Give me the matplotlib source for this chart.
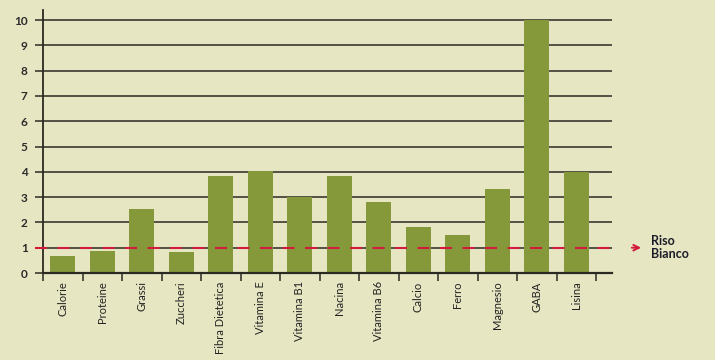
import numpy as np
import matplotlib
matplotlib.use("Agg")
import matplotlib.pyplot as plt
import matplotlib.transforms as mtransforms

categories = ['Calorie', 'Proteine', 'Grassi', 'Zuccheri', 'Fibra Dietetica',
              'Vitamina E', 'Vitamina B1', 'Nacina', 'Vitamina B6', 'Calcio',
              'Ferro', 'Magnesio', 'GABA', 'Lisina']
values = [0.67, 0.88, 2.54, 0.84, 3.83, 4.03, 2.99, 3.83, 2.82, 1.81,
          1.5, 3.33, 10.0, 4.0]
y_ticks = list(range(0, 11))
reference_level = 1
reference_label = 'Riso\nBianco'

plt.rcParams['font.family'] = ['Lato', 'DejaVu Sans']

bg = '#e7e6c3'
bar_color = '#86993a'
line_color = '#2b2a22'
red = '#d21a3c'

fig = plt.figure(figsize=(7.15, 3.6), dpi=100, facecolor=bg)
ax = fig.add_axes([43 / 715, 87 / 360, 569 / 715, 263 / 360])
ax.set_facecolor(bg)

index = np.arange(len(categories))
ax.bar(index, values, 0.63, color=bar_color, zorder=2)

# horizontal rules
for y in y_ticks[1:]:
    ax.axhline(y, color=line_color, lw=1.1, zorder=1)

ax.set_xlim(-0.5, 13.9)
ax.set_ylim(0, 10.4)

for side in ['top', 'right']:
    ax.spines[side].set_visible(False)
ax.spines['left'].set_color(line_color)
ax.spines['left'].set_linewidth(1.3)
ax.spines['bottom'].set_color(line_color)
ax.spines['bottom'].set_linewidth(1.6)
ax.spines['bottom'].set_zorder(3)

ax.set_yticks(y_ticks)
ax.set_yticklabels([str(v) for v in y_ticks], fontsize=8.5, fontweight='bold',
                   color='#2a2a2a')
ax.tick_params(axis='y', length=6, width=1.1, color=line_color, pad=5)

# ticks on category boundaries, labels in the middle
ax.set_xticks(np.arange(-0.5, len(categories), 1.0))
ax.set_xticklabels([])
ax.set_xticks(index, minor=True)
ax.set_xticklabels(categories, minor=True, rotation=90, fontsize=8,
                   color='#222222', va='top', ha='center')
ax.tick_params(axis='x', which='major', length=6, width=1.1, color=line_color)
ax.tick_params(axis='x', which='minor', length=0, pad=6)

# white rice reference line
trans = mtransforms.blended_transform_factory(ax.transAxes, ax.transData)
ax.plot([-0.014, 1.0105], [reference_level, reference_level], transform=trans,
        color=red, lw=1.5, dashes=(5.8, 5.0), clip_on=False, zorder=4)
ax.annotate('', xy=(1.056, reference_level), xytext=(1.03, reference_level),
            xycoords=trans, textcoords=trans,
            arrowprops=dict(arrowstyle='->', color=red, lw=1.4))
ax.text(1.068, reference_level, reference_label, transform=trans,
        fontsize=9, fontweight='bold', color='#1c1c2a', va='center',
        ha='left', linespacing=1.05)

fig.savefig('out.png', dpi=100, facecolor=bg)
